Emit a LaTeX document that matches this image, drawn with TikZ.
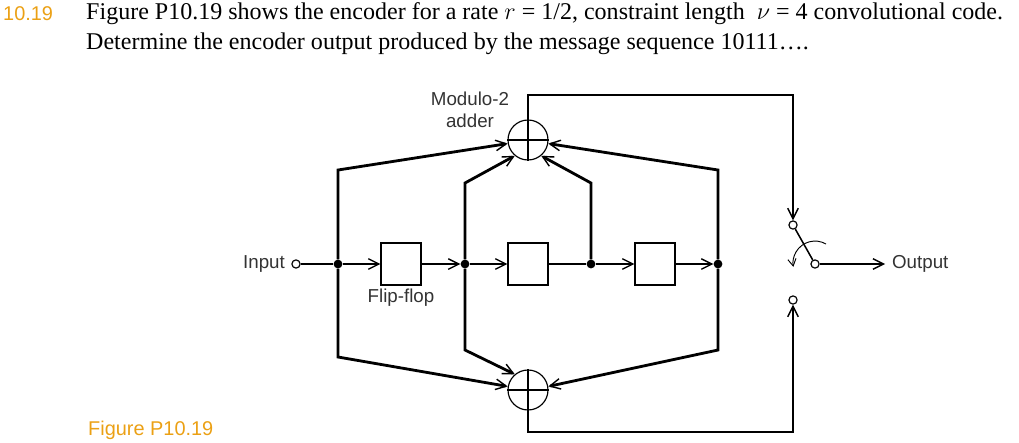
\documentclass[tikz,border=0pt]{standalone}
\usepackage{fontspec}
\setmainfont{Liberation Serif}
\newfontfamily\lab{Liberation Sans}
\usetikzlibrary{arrows.meta}
\definecolor{orng}{RGB}{235,160,20}
\begin{document}
\begin{tikzpicture}[x=0.03cm,y=-0.03cm,
  wire/.style={line width=2.4pt},
  arr/.style={wire,-{Straight Barb[length=9pt,width=9pt,line width=1.2pt]}},
  ff/.style={draw,line width=1pt,minimum width=1.2cm,minimum height=1.26cm,inner sep=0},
  adder/.style={draw,circle,line width=1pt,minimum size=1.2cm,inner sep=0},
  dot/.style={circle,fill,inner sep=0,minimum size=7.5pt},
  term/.style={circle,draw,fill=white,line width=1pt,inner sep=0,minimum size=7pt},
  lbl/.style={font=\lab\fontsize{16}{19}\selectfont,text=black!80},
  tt/.style={font=\fontsize{20.5}{24}\selectfont,anchor=west,inner sep=0}]
\useasboundingbox (0,0) rectangle (1019,442);
\node[tt,text=orng,font=\lab\fontsize{17}{20}\selectfont] (num) at (3,14) {10.19};
\node[tt] (l1) at (86,14) {Figure P10.19 shows the encoder for a rate $r$ = 1/2, constraint length \ $\nu$ = 4 convolutional code.};
\node[tt] (l2) at (86,44) {Determine the encoder output produced by the message sequence 10111….};
\node[tt,text=orng,font=\lab\fontsize{17}{20}\selectfont] (fig) at (88,430) {Figure P10.19};
% nodes
\node[adder] (A) at (528,140) {};
\draw[line width=1pt] (A.north)--(A.south) (A.west)--(A.east);
\node[adder] (B) at (528,390) {};
\draw[line width=1pt] (B.north)--(B.south) (B.west)--(B.east);
\node[ff] (F1) at (401,264) {};
\node[ff] (F2) at (528,264) {};
\node[ff] (F3) at (655,264) {};
\node[term] (in) at (296,264) {};
\node[dot] (d1) at (338,264) {};
\node[dot] (d2) at (465,264) {};
\node[dot] (d3) at (591,264) {};
\node[dot] (d4) at (718,264) {};
\node[term] (ta) at (793,225) {};
\node[term] (tb) at (793,300) {};
\node[term] (p) at (815,264) {};
\coordinate (outend) at (885,264);
\node[lbl,anchor=east] at (289,264) {Input};
\node[lbl,anchor=west] at (888,264) {Output};
\node[lbl] at (401,298) {Flip-flop};
\node[lbl,align=center] at (470,110) {Modulo-2\\adder};
% main line
\draw[wire] (in)--(d1);
\draw[arr] (d1)--(F1.west);
\draw[arr] (F1.east)--(d2);
\draw[arr] (d2)--(F2.west);
\draw[wire] (F2.east)--(d3);
\draw[arr] (d3)--(F3.west);
\draw[arr] (F3.east)--(d4);
% taps to upper adder
\draw[arr] (d1)--(338,170)--(A.190);
\draw[arr] (d2)--(465,183)--(A.230);
\draw[arr] (d3)--(591,183)--(A.310);
\draw[arr] (d4)--(718,170)--(A.350);
% taps to lower adder
\draw[arr] (d1)--(338,357)--(B.170);
\draw[arr] (d2)--(465,350)--(B.130);
\draw[arr] (d4)--(718,350)--(B.10);
% outputs
\draw[arr] (A.north)--(528,95)--(793,95)--(ta.north);
\draw[arr] (B.south)--(528,432)--(793,432)--(tb.south);
\draw[line width=1.3pt] (ta)--(p);
\draw[arr] (p)--(outend);
\draw[line width=0.8pt,-{Straight Barb[length=6pt,width=7pt]}] (826,244) arc[start angle=-60,end angle=-190,radius=22];
\end{tikzpicture}
\end{document}
